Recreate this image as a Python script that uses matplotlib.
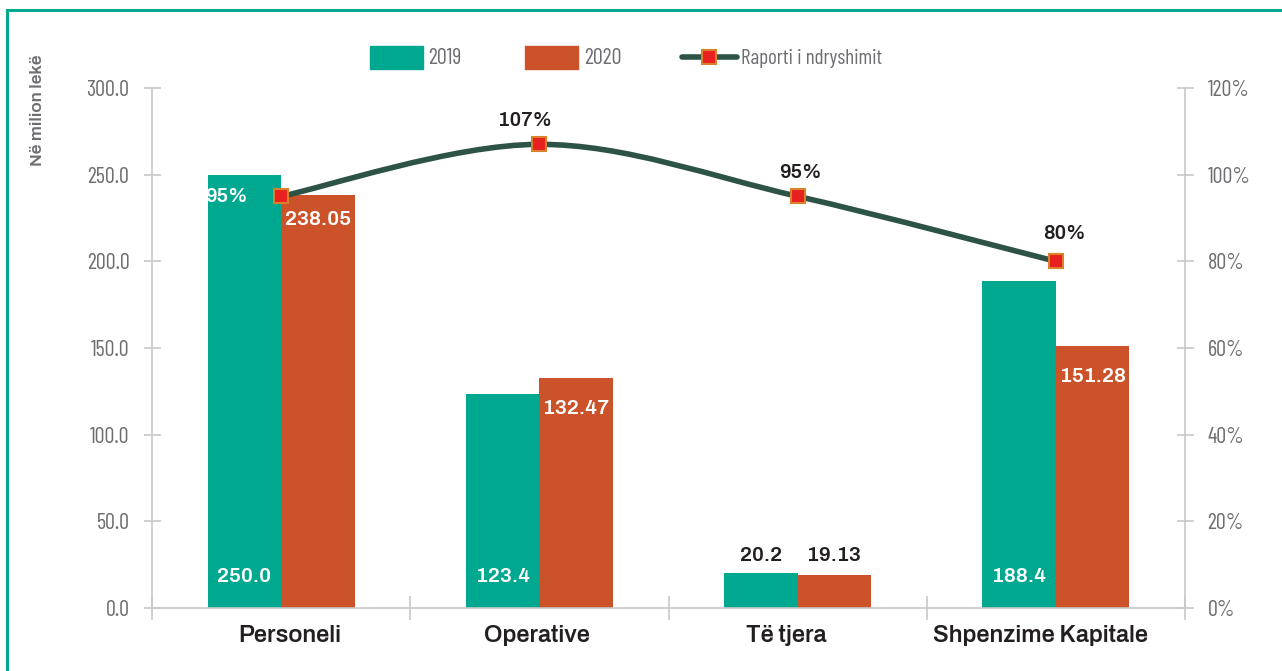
import matplotlib
matplotlib.use("Agg")
import matplotlib.pyplot as plt
from matplotlib.path import Path
from matplotlib.patches import PathPatch, Rectangle
from matplotlib.lines import Line2D
import numpy as np

categories = ["Personeli", "Operative", "Të tjera", "Shpenzime Kapitale"]
values_2019 = [250.0, 123.4, 20.2, 188.4]
values_2020 = [238.05, 132.47, 19.13, 151.28]
ratio_pct = [95, 107, 95, 80]
y_ticks = [0, 50, 100, 150, 200, 250, 300]
y2_ticks = [0, 20, 40, 60, 80, 100, 120]

GREEN = "#00a88f"
ORANGE = "#cc5229"
LINE = "#2d5246"
MFACE = "#e8201f"
MEDGE = "#d9822b"
TICKC = "#6d6e71"
SPINE = "#c8c8c8"
DARK = "#231f20"

COND = ["Barlow Condensed", "DejaVu Sans"]
BOLD = ["Archivo", "DejaVu Sans"]

W, H = 1282, 671
fig = plt.figure(figsize=(W / 100, H / 100), dpi=100)
px = lambda v: v * 0.72  # pixels -> points


def fx(x):
    return x / W


def fy(y):
    return 1 - y / H


ax = fig.add_axes([fx(152), fy(608), fx(1185) - fx(152), fy(88) - fy(608)])
ax2 = ax.twinx()

x = np.arange(len(categories))
bw = 0.285
ax.bar(x - bw / 2, values_2019, bw, color=GREEN, zorder=2)
ax.bar(x + bw / 2, values_2020, bw, color=ORANGE, zorder=2)

ax.set_xlim(-0.5, len(categories) - 0.5)
ax.set_ylim(0, 300)
ax2.set_ylim(0, 120)
ax.set_yticks(y_ticks)
ax.set_yticklabels([f"{v:.1f}" for v in y_ticks])
ax2.set_yticks(y2_ticks)
ax2.set_yticklabels([f"{v}%" for v in y2_ticks])

for s in ("top", "right"):
    ax.spines[s].set_visible(False)
for s in ("top", "left", "bottom"):
    ax2.spines[s].set_visible(False)
for a, s in ((ax, "left"), (ax, "bottom"), (ax2, "right")):
    a.spines[s].set_color(SPINE)
    a.spines[s].set_linewidth(1.2)

ax.tick_params(axis="y", direction="inout", length=px(17), width=1.2, color=SPINE,
               labelcolor=TICKC, labelsize=16, pad=px(14))
ax2.tick_params(axis="y", direction="inout", length=px(17), width=1.2, color=SPINE,
                labelcolor=TICKC, labelsize=16, pad=px(14))
for lab in ax.get_yticklabels() + ax2.get_yticklabels():
    lab.set_family(COND)

# boundary ticks on x
ax.set_xticks(np.arange(-0.5, len(categories), 1.0))
ax.set_xticklabels([])
ax.tick_params(axis="x", direction="inout", length=px(24), width=1.2, color=SPINE)

# category labels (slightly shifted as in the reference)
cat_dx = [9, -2, -11, -15]
for i, c in enumerate(categories):
    ax.annotate(c, (x[i], 0), xycoords=("data", "axes fraction"),
                xytext=(px(cat_dx[i]), -px(28)), textcoords="offset points",
                ha="center", va="center", fontsize=17, fontweight="bold",
                family=BOLD, color=DARK, annotation_clip=False)

# smooth line (Catmull-Rom Bezier) on secondary axis
pts = np.column_stack([x, ratio_pct]).astype(float)
verts = [tuple(pts[0])]
codes = [Path.MOVETO]
n = len(pts)
for i in range(n - 1):
    p0 = pts[max(i - 1, 0)]
    p1 = pts[i]
    p2 = pts[i + 1]
    p3 = pts[min(i + 2, n - 1)]
    c1 = p1 + (p2 - p0) / 6
    c2 = p2 - (p3 - p1) / 6
    verts += [tuple(c1), tuple(c2), tuple(p2)]
    codes += [Path.CURVE4] * 3
ax2.add_patch(PathPatch(Path(verts, codes), facecolor="none", edgecolor=LINE,
                        lw=4, capstyle="round", zorder=4))
ax2.plot(x, ratio_pct, ls="none", marker="s", ms=10, mfc=MFACE, mec=MEDGE, mew=1.5, zorder=5)

# value labels
lab_kw = dict(fontweight="bold", family=BOLD, ha="center", va="center",
              textcoords="offset points")
for i, v in enumerate(values_2019):
    if v > 40:
        ax.annotate(f"{v:.1f}", (x[i] - bw / 2, 0), xytext=(0, px(31)), color="white",
                    fontsize=15, **lab_kw)
    else:
        ax.annotate(f"{v:.1f}", (x[i] - bw / 2, v), xytext=(0, px(17)), color=DARK,
                    fontsize=15, **lab_kw)
top_off = [24, 30, 0, 31]
for i, v in enumerate(values_2020):
    if v > 40:
        ax.annotate(f"{v:.2f}", (x[i] + bw / 2, v), xytext=(0, -px(top_off[i])), color="white",
                    fontsize=15, **lab_kw)
    else:
        ax.annotate(f"{v:.2f}", (x[i] + bw / 2, v), xytext=(0, px(19)), color=DARK,
                    fontsize=15, **lab_kw)

pct_off = [(-55, 0), (-14, 24), (3, 24), (9, 28)]
for i, r in enumerate(ratio_pct):
    col = "white" if i == 0 else DARK
    ax2.annotate(f"{r}%", (x[i], r), xytext=(px(pct_off[i][0]), px(pct_off[i][1])),
                 color=col, zorder=6, fontsize=14.5, **lab_kw)

# y label
fig.text(fx(37), fy(110), "Në milion lekë", rotation=90, ha="center", va="center",
         fontsize=12.5, fontweight="bold", color=TICKC, family=BOLD)

# legend (manual)
LY = 58
fig.patches.append(Rectangle((fx(370), fy(69)), fx(423) - fx(370), fy(46) - fy(69),
                             transform=fig.transFigure, color=GREEN))
fig.text(fx(428), fy(LY), "2019", ha="left", va="center", fontsize=16, color=TICKC, family=COND)
fig.patches.append(Rectangle((fx(525), fy(69)), fx(578) - fx(525), fy(46) - fy(69),
                             transform=fig.transFigure, color=ORANGE))
fig.text(fx(584), fy(LY), "2020", ha="left", va="center", fontsize=16, color=TICKC, family=COND)
fig.lines.append(Line2D([fx(682), fx(737)], [fy(57), fy(57)], transform=fig.transFigure,
                        color=LINE, lw=4, solid_capstyle="round"))
fig.lines.append(Line2D([fx(709)], [fy(57)], transform=fig.transFigure, ls="none",
                        marker="s", ms=10, mfc=MFACE, mec=MEDGE, mew=1.5))
fig.text(fx(741), fy(LY), "Raporti i ndryshimit", ha="left", va="center", fontsize=15.2,
         color=TICKC, family=COND)

# teal frame
fig.patches.append(Rectangle((fx(7), fy(700)), fx(1300) - fx(7), fy(10) - fy(700),
                             transform=fig.transFigure, fill=False, edgecolor=GREEN, lw=2.2))

fig.savefig("out.png", dpi=100)
